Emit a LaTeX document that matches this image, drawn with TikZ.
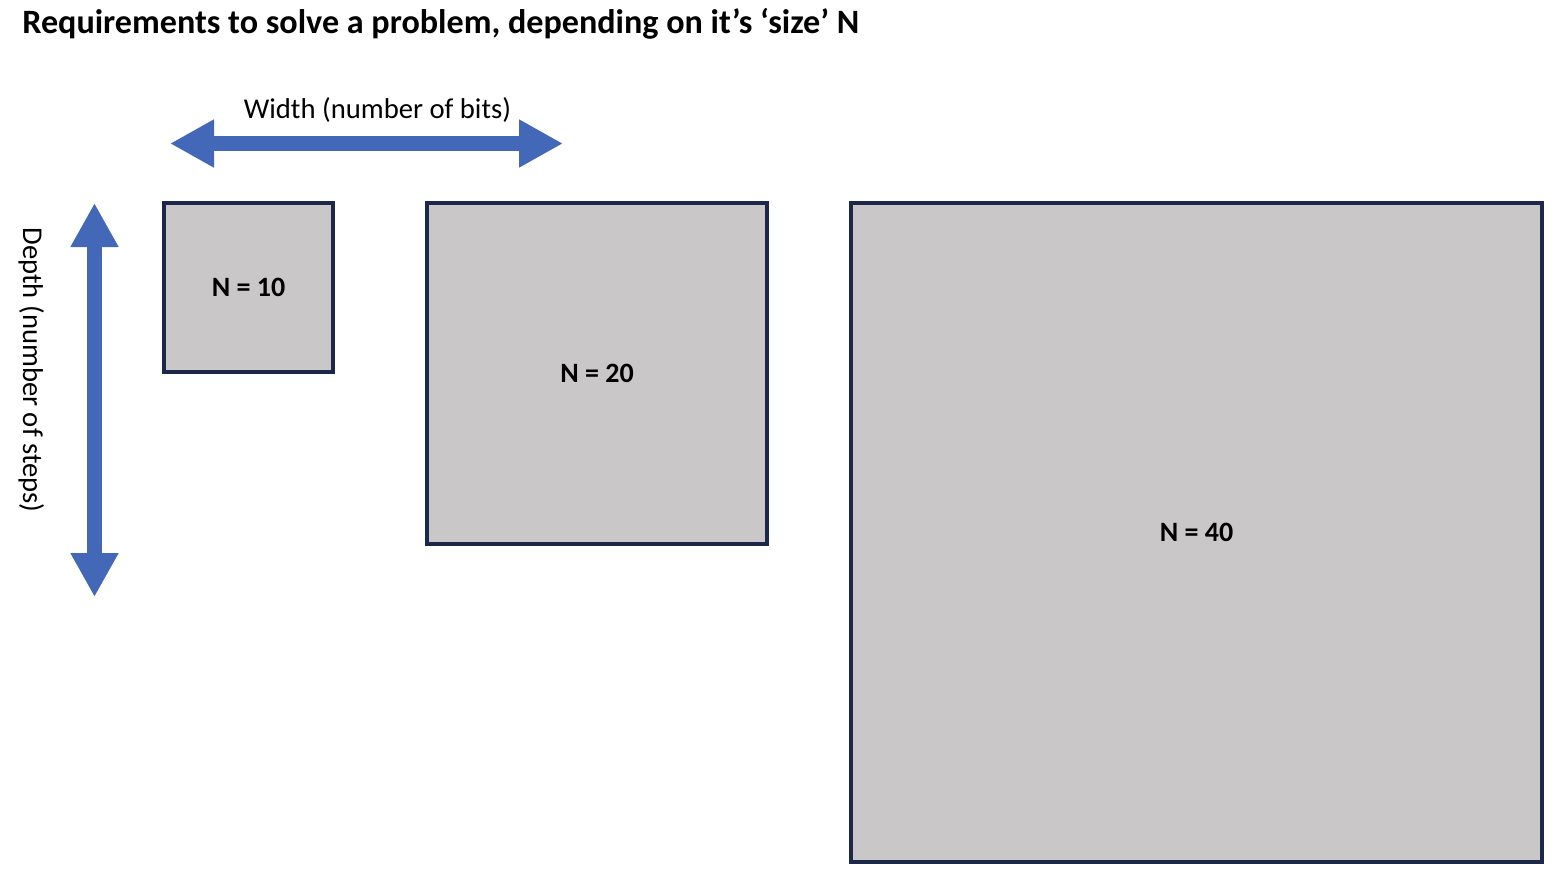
\documentclass[tikz,border=0pt]{standalone}
\usepackage{fontspec}
\setmainfont{Carlito}
\usetikzlibrary{arrows.meta}

\definecolor{boxgrey}{HTML}{C9C7C8}
\definecolor{boxedge}{HTML}{1C2749}
\definecolor{arrowblue}{HTML}{4468B8}

\tikzset{
    sizebox/.style={draw=boxedge, fill=boxgrey, line width=3pt, font=\fontsize{21}{25}\selectfont\bfseries, inner sep=0pt},
    axisarrow/.style={draw=arrowblue, line width=11.25pt, {Triangle[length=33pt, width=33.75pt]}-{Triangle[length=33pt, width=33.75pt]}},
    axislabel/.style={font=\fontsize{21.5}{25}\selectfont, inner sep=0pt}
}

\begin{document}
\begin{tikzpicture}[x=0.75pt, y=-0.75pt]
    \useasboundingbox (0,0) rectangle (1562,879);

    % Title
    \node[anchor=base west, inner sep=0pt, font=\fontsize{25.6}{30}\selectfont\bfseries] (title) at (22,33) {Requirements to solve a problem, depending on it’s ‘size’ N};

    % Problem sizes
    \node[sizebox, minimum width=126.75pt, minimum height=126.75pt] (n10) at (248.5,287.5) {N = 10};
    \node[sizebox, minimum width=255pt, minimum height=255.75pt] (n20) at (597,373.5) {N = 20};
    \node[sizebox, minimum width=518.25pt, minimum height=494.25pt] (n40) at (1196.5,532.5) {N = 40};

    % Width arrow
    \coordinate (wleft) at (170,143.5);
    \coordinate (wright) at (563,143.5);
    \draw[axisarrow] (wleft) -- (wright);
    \node[axislabel, anchor=base] (wlabel) at (377.5,118) {Width (number of bits)};

    % Depth arrow
    \coordinate (dtop) at (94.5,203);
    \coordinate (dbottom) at (94.5,597);
    \draw[axisarrow] (dtop) -- (dbottom);
    \node[axislabel, anchor=base, rotate=-90] (dlabel) at (23,370) {Depth (number of steps)};
\end{tikzpicture}
\end{document}
